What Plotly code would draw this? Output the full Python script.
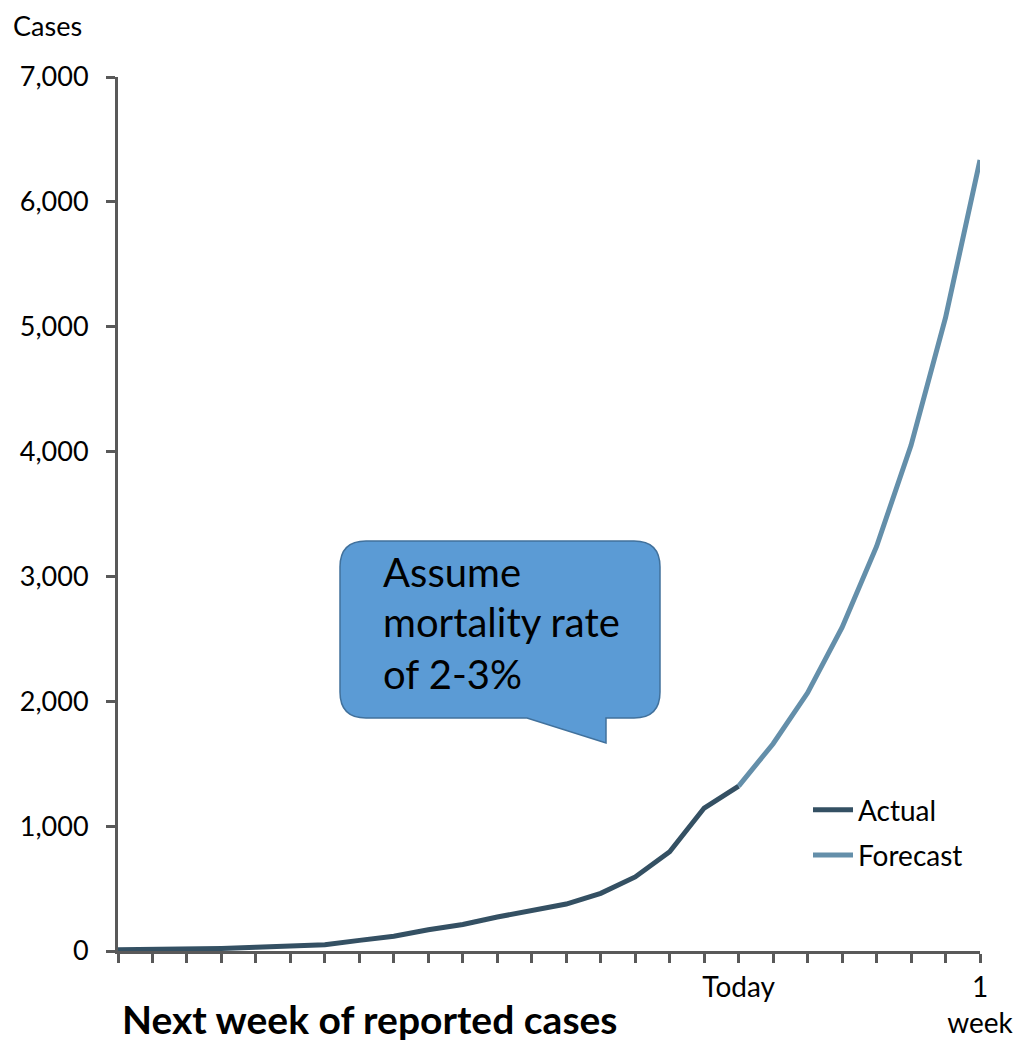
import plotly.graph_objects as go

# ---- data ----
actual_days = list(range(0, 19))
actual_cases = [10, 12, 17, 21, 30, 38, 50, 85, 118, 170, 212, 272, 325, 376, 462, 593, 795, 1145, 1321]
forecast_days = list(range(18, 26))
forecast_cases = [1321, 1660, 2068, 2592, 3240, 4050, 5072, 6335]
tick_positions = list(range(0, 26))
tick_labels = [""] * 18 + ["Today"] + [""] * 6 + ["1<br>week"]
y_ticks = [0, 1000, 2000, 3000, 4000, 5000, 6000, 7000]
y_tick_labels = ["0", "1,000", "2,000", "3,000", "4,000", "5,000", "6,000", "7,000"]

FONT = "Lato"
OFF = 8  # page body margin
W, H = 1022 - OFF, 1042 - OFF
# plot area in page pixels
L, R, T, B = 118, 980, 77, 951


def px(x):
    return (x - L) / (R - L)


def py(y):
    return (B - y) / (B - T)


fig = go.Figure()
fig.add_trace(go.Scatter(x=actual_days, y=actual_cases, mode="lines", name="Actual",
                         legendgroup="a",
                         line=dict(color="#345063", width=5), cliponaxis=False))
fig.add_trace(go.Scatter(x=forecast_days, y=forecast_cases, mode="lines", name="Forecast",
                         legendgroup="b",
                         line=dict(color="#648FAA", width=5), cliponaxis=False))

# callout shape (rounded rectangle with tail)
x0, x1, y0, y1, r = 340, 660, 541, 718, 26
path = (
    f"M {px(x0 + r)},{py(y0)} L {px(x1 - r)},{py(y0)} "
    f"Q {px(x1)},{py(y0)} {px(x1)},{py(y0 + r)} "
    f"L {px(x1)},{py(y1 - r)} Q {px(x1)},{py(y1)} {px(x1 - r)},{py(y1)} "
    f"L {px(606)},{py(y1)} L {px(606)},{py(743)} L {px(527)},{py(y1)} "
    f"L {px(x0 + r)},{py(y1)} Q {px(x0)},{py(y1)} {px(x0)},{py(y1 - r)} "
    f"L {px(x0)},{py(y0 + r)} Q {px(x0)},{py(y0)} {px(x0 + r)},{py(y0)} Z"
)
fig.add_shape(type="path", path=path, xref="paper", yref="paper",
              fillcolor="#5B9BD5", line=dict(color="#41719C", width=1.5), layer="above")

callout_lines = ["Assume", "mortality rate", "of 2-3%"]
callout_y = [572, 622, 674]
for txt, yy in zip(callout_lines, callout_y):
    fig.add_annotation(text=txt, x=px(381), y=py(yy), xref="paper", yref="paper",
                       xanchor="left", yanchor="middle", showarrow=False, align="left",
                       font=dict(family=FONT, size=40, color="#000000"))

fig.add_annotation(text="Cases", x=px(12), y=py(8), xref="paper", yref="paper",
                   xanchor="left", yanchor="top", showarrow=False, borderpad=0,
                   font=dict(family=FONT, size=27, color="#000000"))
fig.add_annotation(text="<b>Next week of reported cases</b>", x=px(120), y=py(1019),
                   xref="paper", yref="paper", xanchor="left", yanchor="middle",
                   showarrow=False, font=dict(family=FONT, size=39, color="#000000"))

fig.update_layout(
    width=W, height=H,
    margin=dict(l=L - OFF, r=1022 - R, t=T - OFF, b=1042 - B, autoexpand=False),
    paper_bgcolor="white", plot_bgcolor="white",
    font=dict(family=FONT, size=28, color="#000000"),
    showlegend=True,
    legend=dict(x=px(808), y=py(785), xanchor="left", yanchor="top",
                font=dict(family=FONT, size=28, color="#000000"),
                bgcolor="rgba(0,0,0,0)", tracegroupgap=6, itemwidth=40),
)
fig.update_xaxes(range=[0, 25], tickmode="array", tickvals=tick_positions, ticktext=tick_labels,
                 showgrid=False, zeroline=False, showline=True, linecolor="#595959", linewidth=3,
                 ticks="outside", ticklen=9, tickwidth=3, tickcolor="#595959", automargin=False,
                 tickfont=dict(family=FONT, size=28, color="#000000"), tickangle=0)
fig.update_yaxes(range=[0, 7000], tickmode="array", tickvals=y_ticks, ticktext=y_tick_labels,
                 showgrid=False, zeroline=False, showline=True, linecolor="#595959", linewidth=3,
                 ticks="outside", ticklen=9, tickwidth=3, tickcolor="#595959", automargin=False,
                 ticklabelstandoff=12,
                 tickfont=dict(family=FONT, size=27, color="#000000"))

fig.write_html("out.html")
